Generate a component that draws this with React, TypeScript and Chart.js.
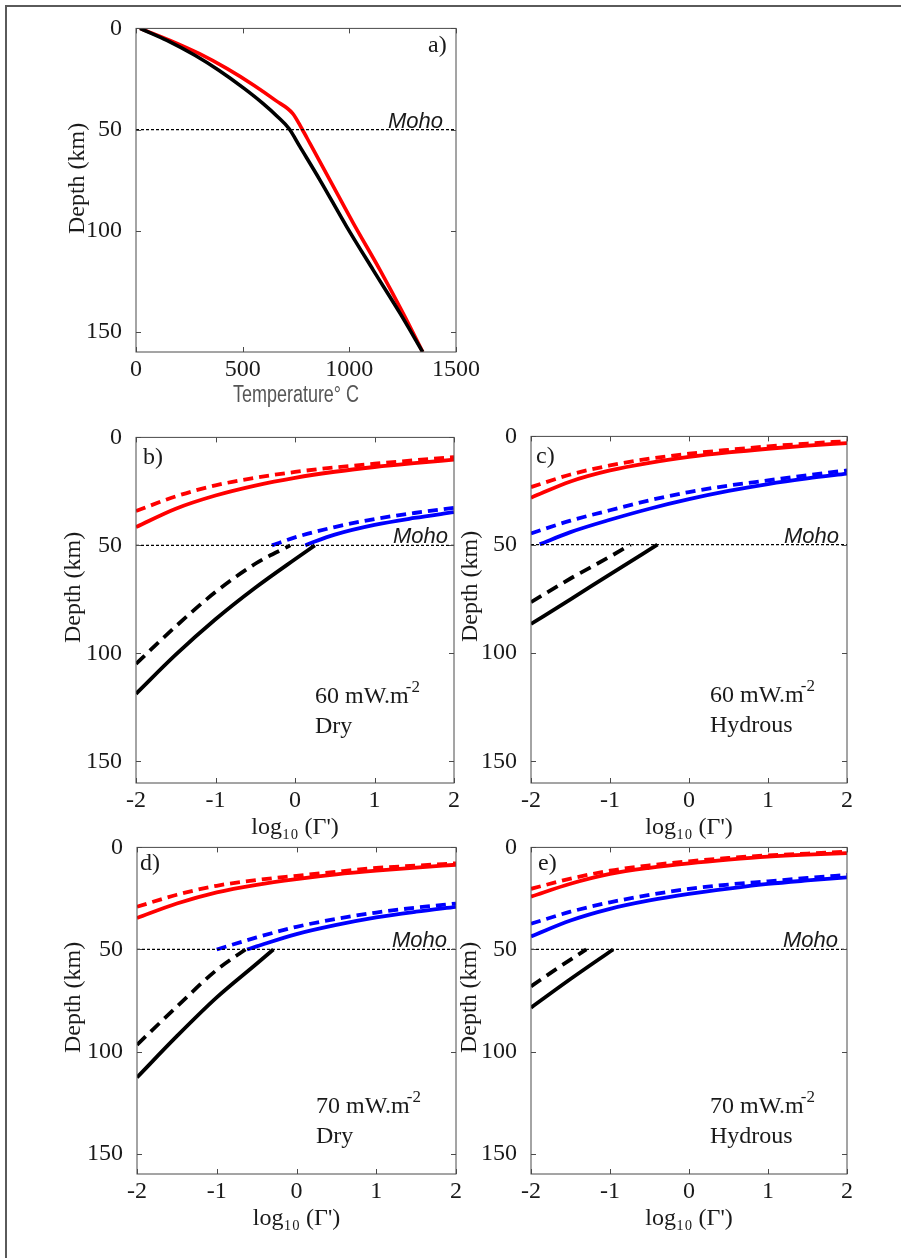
import React, { useEffect, useRef } from "react";
import { Chart, registerables } from "chart.js";

Chart.register(...registerables);

const SERIF = "'Liberation Serif', 'Times New Roman', serif";
const SANS = "'Liberation Sans', Arial, sans-serif";

const RED = "#ff0000";
const BLUE = "#0000ff";
const BLACK = "#000000";
const AXIS = "#4a4a4a";
const TEXT = "#1a1a1a";

// ---------------- data ----------------
const DEPTH_TICKS = [0, 50, 100, 150];
const DEPTH_MIN = 0;
const DEPTH_MAX = 160;
const MOHO_DEPTH = 50;

// panel a: geotherms (temperature in degC vs depth in km)
const TEMP_TICKS = [0, 500, 1000, 1500];
const TEMP_RANGE = [0, 1500];
const GEOTHERM_BLACK_T = [19, 145, 276, 388, 508, 596, 665, 717, 769, 863, 988, 1112, 1238, 1344];
const GEOTHERM_BLACK_Z = [0, 5.9, 13.3, 20.7, 29.8, 37.2, 43.8, 49.5, 58.6, 75.1, 98.1, 119.5, 140.9, 160];
const GEOTHERM_RED_T = [19, 159, 297, 427, 552, 654, 735, 777, 816, 909, 1019, 1144, 1253, 1344];
const GEOTHERM_RED_Z = [0, 5.9, 12.5, 19.9, 28.1, 35.6, 42.1, 49.5, 57, 75, 96.4, 119.5, 141, 160];

// panels b-e: log10(Gamma')
const LOG_TICKS = [-2, -1, 0, 1, 2];
const LOG_RANGE = [-2, 2];
const LOG_GRID = [-2, -1.5, -1, -0.5, 0, 0.5, 1, 1.5, 2];

// b) 60 mW/m2 dry
const B_RED_SOLID = [41.5, 33, 26.9, 22.3, 18.7, 15.9, 13.7, 11.9, 10.3];
const B_RED_DASH = [34.1, 27.3, 22.2, 18.7, 16, 13.9, 12.2, 10.6, 9.1];
const B_BLUE_SOLID_X = [0.13, 0.25, 0.5, 1, 1.5, 2];
const B_BLUE_SOLID = [50, 48.2, 45, 40.5, 37.3, 34.6];
const B_BLUE_DASH_X = [-0.29, 0, 0.5, 1, 1.5, 2];
const B_BLUE_DASH = [50, 46.3, 41.5, 37.8, 35, 32.6];
const B_BLACK_SOLID_X = [-2, -1.5, -1, -0.5, 0, 0.25];
const B_BLACK_SOLID = [118.7, 100.6, 84.2, 69.6, 56.4, 50];
const B_BLACK_DASH_X = [-2, -1.5, -1, -0.5, -0.06];
const B_BLACK_DASH = [104.8, 87.5, 71.6, 58.5, 50];

// c) 60 mW/m2 hydrous
const C_RED_SOLID = [28.3, 20.8, 15.7, 12.2, 9.5, 7.4, 5.7, 4.3, 3.1];
const C_RED_DASH = [23.4, 17.6, 13.4, 10.3, 8, 6.2, 4.6, 3.3, 2.2];
const C_BLUE_SOLID_X = [-1.89, -1.5, -1, -0.5, 0, 0.5, 1, 1.5, 2];
const C_BLUE_SOLID = [49.8, 44.2, 38.5, 33.4, 29, 25.2, 22, 19.4, 17.2];
const C_BLUE_DASH = [44.8, 38.9, 34.1, 29.5, 25.7, 22.7, 20.3, 17.9, 15.7];
const C_BLACK_SOLID_X = [-2, -1.5, -1, -0.4];
const C_BLACK_SOLID = [86.6, 75.2, 63.7, 50];
const C_BLACK_DASH_X = [-2, -1.5, -1, -0.74];
const C_BLACK_DASH = [76.5, 65.6, 55.5, 50];

// d) 70 mW/m2 dry
const D_RED_SOLID = [34.6, 27.5, 22, 18.3, 15.5, 13.2, 11.4, 9.9, 8.5];
const D_RED_DASH = [29.1, 23.2, 18.8, 16, 13.9, 11.9, 10.1, 8.9, 7.8];
const D_BLUE_SOLID_X = [-0.62, -0.5, 0, 0.5, 1, 1.5, 2];
const D_BLUE_SOLID = [50, 48.5, 42.5, 38, 34.3, 31.5, 29.1];
const D_BLUE_DASH_X = [-1, -0.5, 0, 0.5, 1, 1.5, 2];
const D_BLUE_DASH = [50, 44.1, 38.9, 35, 31.9, 29.5, 27.5];
const D_BLACK_SOLID_X = [-2, -1.5, -1, -0.5, -0.29];
const D_BLACK_SOLID = [112.7, 92.5, 73.5, 57, 50];
const D_BLACK_DASH_X = [-2, -1.5, -1, -0.64];
const D_BLACK_DASH = [96.7, 78, 60, 50];

// e) 70 mW/m2 hydrous
const E_RED_SOLID = [24.1, 17.8, 13, 10, 7.8, 6, 4.5, 3.5, 2.8];
const E_RED_DASH = [20.3, 15.3, 11.4, 8.8, 6.8, 5.2, 3.9, 3, 2.1];
const E_BLUE_SOLID = [43.6, 35.8, 30.1, 26, 22.8, 20.2, 17.9, 16.2, 14.7];
const E_BLUE_DASH = [37.4, 31.5, 26.9, 23.3, 20.3, 18.2, 16.6, 15, 13.5];
const E_BLACK_SOLID_X = [-2, -1.5, -0.96];
const E_BLACK_SOLID = [78.5, 64.5, 50];
const E_BLACK_DASH_X = [-2, -1.65, -1.3];
const E_BLACK_DASH = [68.1, 58.8, 50];

// ---------------- helpers ----------------
const pts = (xs: number[], ys: number[]) => xs.map((x, i) => ({ x, y: ys[i] }));

const line = (xs: number[], ys: number[], color: string, dashed = false, width = 3.8) => ({
  data: pts(xs, ys),
  borderColor: color,
  backgroundColor: color,
  borderWidth: width,
  borderDash: dashed ? (color === BLACK ? [12, 7] : [10, 6]) : [],
  borderCapStyle: "butt",
  pointRadius: 0,
  cubicInterpolationMode: "monotone",
  fill: false,
});

const moho = (range: number[]) => ({
  data: pts(range, [MOHO_DEPTH, MOHO_DEPTH]),
  borderColor: BLACK,
  borderWidth: 1.3,
  borderDash: [3, 2],
  pointRadius: 0,
  tension: 0,
  fill: false,
});

// layout constants (canvas margins around plot area)
const YW = 100;
const PT = 20;
const PR = 36;
const XH = 70;

type PanelCfg = {
  key: string;
  left: number;
  top: number;
  right: number;
  bottom: number;
  xRange: number[];
  xTicks: number[];
  xTitle: string;
  condensedTitle?: boolean;
  yTitleDx: number;
  letter: string;
  letterDx: number;
  letterDy: number;
  mohoDx: number;
  flux?: string;
  fluxSub?: string;
  datasets: any[];
};

const LOG_TITLE = "log\u2081\u2080 (\u0393')";

const PANELS: PanelCfg[] = [
  {
    key: "a",
    left: 136, top: 28, right: 456, bottom: 352,
    xRange: TEMP_RANGE, xTicks: TEMP_TICKS,
    xTitle: "Temperature\u00B0 C", condensedTitle: true,
    yTitleDx: 58, letter: "a)", letterDx: 292, letterDy: 17, mohoDx: 13,
    datasets: [
      moho(TEMP_RANGE),
      line(GEOTHERM_BLACK_T, GEOTHERM_BLACK_Z, BLACK, false, 3.6),
      line(GEOTHERM_RED_T, GEOTHERM_RED_Z, RED, false, 3.6),
    ],
  },
  {
    key: "b",
    left: 136, top: 437, right: 454, bottom: 783,
    xRange: LOG_RANGE, xTicks: LOG_TICKS, xTitle: LOG_TITLE,
    yTitleDx: 62, letter: "b)", letterDx: 7, letterDy: 20, mohoDx: 6,
    flux: "60 mW.m", fluxSub: "Dry",
    datasets: [
      moho(LOG_RANGE),
      line(LOG_GRID, B_RED_SOLID, RED),
      line(LOG_GRID, B_RED_DASH, RED, true),
      line(B_BLUE_SOLID_X, B_BLUE_SOLID, BLUE),
      line(B_BLUE_DASH_X, B_BLUE_DASH, BLUE, true),
      line(B_BLACK_SOLID_X, B_BLACK_SOLID, BLACK),
      line(B_BLACK_DASH_X, B_BLACK_DASH, BLACK, true),
    ],
  },
  {
    key: "c",
    left: 531, top: 436, right: 847, bottom: 783,
    xRange: LOG_RANGE, xTicks: LOG_TICKS, xTitle: LOG_TITLE,
    yTitleDx: 60, letter: "c)", letterDx: 5, letterDy: 20, mohoDx: 8,
    flux: "60 mW.m", fluxSub: "Hydrous",
    datasets: [
      moho(LOG_RANGE),
      line(LOG_GRID, C_RED_SOLID, RED),
      line(LOG_GRID, C_RED_DASH, RED, true),
      line(C_BLUE_SOLID_X, C_BLUE_SOLID, BLUE),
      line(LOG_GRID, C_BLUE_DASH, BLUE, true),
      line(C_BLACK_SOLID_X, C_BLACK_SOLID, BLACK),
      line(C_BLACK_DASH_X, C_BLACK_DASH, BLACK, true),
    ],
  },
  {
    key: "d",
    left: 137, top: 847, right: 456, bottom: 1174,
    xRange: LOG_RANGE, xTicks: LOG_TICKS, xTitle: LOG_TITLE,
    yTitleDx: 63, letter: "d)", letterDx: 3, letterDy: 16, mohoDx: 9,
    flux: "70 mW.m", fluxSub: "Dry",
    datasets: [
      moho(LOG_RANGE),
      line(LOG_GRID, D_RED_SOLID, RED),
      line(LOG_GRID, D_RED_DASH, RED, true),
      line(D_BLUE_SOLID_X, D_BLUE_SOLID, BLUE),
      line(D_BLUE_DASH_X, D_BLUE_DASH, BLUE, true),
      line(D_BLACK_SOLID_X, D_BLACK_SOLID, BLACK),
      line(D_BLACK_DASH_X, D_BLACK_DASH, BLACK, true),
    ],
  },
  {
    key: "e",
    left: 531, top: 847, right: 847, bottom: 1174,
    xRange: LOG_RANGE, xTicks: LOG_TICKS, xTitle: LOG_TITLE,
    yTitleDx: 61, letter: "e)", letterDx: 7, letterDy: 16, mohoDx: 9,
    flux: "70 mW.m", fluxSub: "Hydrous",
    datasets: [
      moho(LOG_RANGE),
      line(LOG_GRID, E_RED_SOLID, RED),
      line(LOG_GRID, E_RED_DASH, RED, true),
      line(LOG_GRID, E_BLUE_SOLID, BLUE),
      line(LOG_GRID, E_BLUE_DASH, BLUE, true),
      line(E_BLACK_SOLID_X, E_BLACK_SOLID, BLACK),
      line(E_BLACK_DASH_X, E_BLACK_DASH, BLACK, true),
    ],
  },
];

// ---------------- decoration plugin ----------------
const panelDecor = {
  id: "panelDecor",
  afterDatasetsDraw(chart: any, _args: any, opts: any) {
    const { ctx, chartArea: a } = chart;
    const xs = chart.scales.x;
    const ys = chart.scales.y;
    const TL = 5;
    ctx.save();
    ctx.strokeStyle = AXIS;
    ctx.lineWidth = 1;
    ctx.setLineDash([]);
    ctx.strokeRect(a.left, a.top, a.right - a.left, a.bottom - a.top);
    ctx.beginPath();
    xs.ticks.forEach((t: any) => {
      const px = Math.round(xs.getPixelForValue(t.value)) + 0.5;
      ctx.moveTo(px, a.bottom);
      ctx.lineTo(px, a.bottom - TL);
      ctx.moveTo(px, a.top);
      ctx.lineTo(px, a.top + TL);
    });
    ys.ticks.forEach((t: any) => {
      const py = Math.round(ys.getPixelForValue(t.value)) + 0.5;
      ctx.moveTo(a.left, py);
      ctx.lineTo(a.left + TL, py);
      ctx.moveTo(a.right, py);
      ctx.lineTo(a.right - TL, py);
    });
    ctx.stroke();

    ctx.fillStyle = TEXT;
    // y title
    ctx.save();
    ctx.translate(a.left - opts.yTitleDx, a.top + 150);
    ctx.rotate(-Math.PI / 2);
    ctx.font = `24px ${SERIF}`;
    ctx.textAlign = "center";
    ctx.textBaseline = "middle";
    ctx.fillText("Depth (km)", 0, 0);
    ctx.restore();

    // condensed x title (panel a)
    if (opts.condensedTitle) {
      ctx.save();
      ctx.font = `23px ${SANS}`;
      ctx.fillStyle = "#555555";
      ctx.textAlign = "center";
      ctx.textBaseline = "middle";
      const w = ctx.measureText(opts.condensedTitle).width;
      const k = Math.min(1, 126 / w);
      ctx.translate((a.left + a.right) / 2, a.bottom + 44);
      ctx.scale(k, 1);
      ctx.fillText(opts.condensedTitle, 0, 0);
      ctx.restore();
    }

    // panel letter
    ctx.font = `24px ${SERIF}`;
    ctx.textAlign = "left";
    ctx.textBaseline = "middle";
    ctx.fillText(opts.letter, a.left + opts.letterDx, a.top + opts.letterDy);

    // Moho label
    ctx.font = `italic 22px ${SANS}`;
    ctx.textAlign = "right";
    ctx.textBaseline = "alphabetic";
    ctx.fillText("Moho", a.right - opts.mohoDx, ys.getPixelForValue(MOHO_DEPTH) - 2);

    // heat flux annotation
    if (opts.flux) {
      ctx.font = `24px ${SERIF}`;
      ctx.textAlign = "left";
      const fx = a.left + 179;
      const fy = a.top + 266;
      ctx.fillText(opts.flux, fx, fy);
      const w = ctx.measureText(opts.flux).width;
      ctx.font = `17px ${SERIF}`;
      ctx.fillText("-2", fx + w - 3, fy - 11);
      ctx.font = `24px ${SERIF}`;
      ctx.fillText(opts.fluxSub, fx, fy + 30);
    }
    ctx.restore();
  },
};

function buildConfig(cfg: PanelCfg): any {
  const tickFont = { family: SERIF, size: 24 };
  return {
    type: "line",
    data: { datasets: cfg.datasets },
    options: {
      animation: false,
      responsive: false,
      maintainAspectRatio: false,
      events: [],
      layout: { padding: { left: 0, top: PT, right: PR, bottom: 0 } },
      plugins: {
        legend: { display: false },
        tooltip: { enabled: false },
        panelDecor: {
          yTitleDx: cfg.yTitleDx,
          letter: cfg.letter,
          letterDx: cfg.letterDx,
          letterDy: cfg.letterDy,
          mohoDx: cfg.mohoDx,
          flux: cfg.flux,
          fluxSub: cfg.fluxSub,
          condensedTitle: cfg.condensedTitle ? cfg.xTitle : null,
        },
      },
      scales: {
        x: {
          type: "linear",
          min: cfg.xRange[0],
          max: cfg.xRange[1],
          afterBuildTicks: (s: any) => {
            s.ticks = cfg.xTicks.map((v) => ({ value: v }));
          },
          afterFit: (s: any) => {
            s.height = XH;
          },
          grid: { display: false },
          border: { display: false },
          ticks: {
            font: tickFont,
            color: TEXT,
            padding: -5,
            maxRotation: 0,
            autoSkip: false,
            callback: (v: any) => String(v),
          },
          title: {
            display: !cfg.condensedTitle,
            text: cfg.xTitle,
            font: { family: SERIF, size: 24 },
            color: TEXT,
            padding: { top: 0, bottom: 11 },
          },
        },
        y: {
          type: "linear",
          reverse: true,
          min: DEPTH_MIN,
          max: DEPTH_MAX,
          afterBuildTicks: (s: any) => {
            s.ticks = DEPTH_TICKS.map((v) => ({ value: v }));
          },
          afterFit: (s: any) => {
            s.width = YW;
          },
          grid: { display: false },
          border: { display: false },
          ticks: {
            font: tickFont,
            color: TEXT,
            padding: 6,
            autoSkip: false,
            callback: (v: any) => String(v),
          },
        },
      },
    },
    plugins: [panelDecor],
  };
}

function Panel({ cfg }: { cfg: PanelCfg }) {
  const ref = useRef<HTMLCanvasElement>(null);
  const w = cfg.right - cfg.left + YW + PR;
  const h = cfg.bottom - cfg.top + PT + XH;
  useEffect(() => {
    const chart = new Chart(ref.current as HTMLCanvasElement, buildConfig(cfg));
    return () => chart.destroy();
  }, []);
  return (
    <canvas
      ref={ref}
      width={w}
      height={h}
      style={{ position: "absolute", left: cfg.left - YW, top: cfg.top - PT, width: w, height: h }}
    />
  );
}

export default function App() {
  return (
    <div
      style={{
        position: "absolute",
        left: 0,
        top: 0,
        width: 901,
        height: 1258,
        background: "#ffffff",
        overflow: "hidden",
      }}
    >
      <div
        style={{
          position: "absolute",
          left: 5,
          top: 5,
          width: 900,
          height: 1260,
          borderLeft: "2px solid #5a5a5a",
          borderTop: "2px solid #5a5a5a",
        }}
      />
      {PANELS.map((p) => (
        <Panel key={p.key} cfg={p} />
      ))}
    </div>
  );
}
